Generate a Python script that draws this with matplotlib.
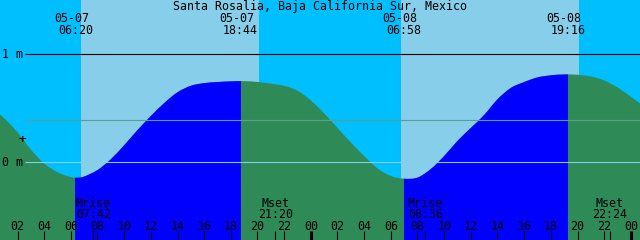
import matplotlib
matplotlib.use("Agg")
import matplotlib.pyplot as plt
from matplotlib.path import Path
from matplotlib.patches import PathPatch
from matplotlib.transforms import blended_transform_factory

# ---------------- data ----------------
title = "Santa Rosalia, Baja California Sur, Mexico"

# hours counted from 05-07 00:00 ; tide height in metres
tide_hours = [0.6875, 1, 2, 3, 4, 5, 6, 6.5, 7, 8, 9, 10, 11, 12, 13, 14, 15, 16, 17,
              18, 19, 20, 21, 22, 23, 24, 25, 26, 27, 28, 29, 30, 31, 32, 33, 34,
              35, 36, 37, 38, 39, 40, 41, 42, 43, 44, 45, 46, 47, 48, 48.6875]
tide_heights = [0.444, 0.41, 0.28, 0.12, -0.01, -0.09, -0.135, -0.14, -0.13, -0.07,
                0.03, 0.16, 0.30, 0.43, 0.55, 0.65, 0.71, 0.735, 0.745, 0.751, 0.753,
                0.746, 0.73, 0.71, 0.665, 0.575, 0.455, 0.32, 0.185, 0.06, -0.055,
                -0.125, -0.15, -0.14, -0.06, 0.06, 0.20, 0.32, 0.44, 0.585, 0.69,
                0.745, 0.788, 0.807, 0.815, 0.812, 0.797, 0.76, 0.695, 0.61, 0.546]

sun_dates = ["05-07", "05-07", "05-08", "05-08"]
sun_times = ["06:20", "18:44", "06:58", "19:16"]
sun_hours = [6 + 20/60, 18 + 44/60, 24 + 6 + 58/60, 24 + 19 + 16/60]

moon_names = ["Mrise", "Mset", "Mrise", "Mset"]
moon_times = ["07:42", "21:20", "08:36", "22:24"]
moon_hours = [7 + 42/60, 21 + 20/60, 24 + 8 + 36/60, 24 + 22 + 24/60]

light_sky_spans = [(6.77, 20.11), (30.76, 44.11)]

level_values = [1.0, 0.39, 0.0]
level_labels = ["1 m", "", "0 m"]

tick_hours = list(range(2, 49, 2))
tick_labels = ["%02d" % (h % 24) for h in tick_hours]
midnight_hours = [24, 48]

# ---------------- style ----------------
NIGHT_SKY = "#00BFFF"
DAY_SKY = "#87CEEB"
NIGHT_WATER = "#2E8B57"
DAY_WATER = "#0000FF"
MID_LINE = "#5AA08C"
ZERO_LINE = "#87CEEB"
FONT = "DejaVu Sans Mono"
FS = 8.4
W, H = 640, 240
X0, X1 = 0.6875, 48.6875
Y0, Y1 = -0.7176, 1.5046

fig = plt.figure(figsize=(W / 100, H / 100), dpi=100)
ax = fig.add_axes([0, 0, 1, 1])
ax.set_xlim(X0, X1)
ax.set_ylim(Y0, Y1)
ax.axis("off")
fig.patch.set_facecolor(NIGHT_SKY)

def px_x(px):
    return X0 + px / W * (X1 - X0)

def row(r):
    return 1 - r / H

tr = blended_transform_factory(ax.transData, fig.transFigure)

# sky
ax.axvspan(X0, X1, color=NIGHT_SKY, lw=0, zorder=0)
for a, b in light_sky_spans:
    ax.axvspan(a, b, color=DAY_SKY, lw=0, zorder=1)

# water: smooth (Catmull-Rom -> Bezier) path through the tide readings
pts = list(zip(tide_hours, tide_heights))
verts = [(tide_hours[0], Y0 - 1), pts[0]]
codes = [Path.MOVETO, Path.LINETO]
n = len(pts)
for i in range(n - 1):
    p0 = pts[i - 1] if i > 0 else pts[i]
    p1 = pts[i]
    p2 = pts[i + 1]
    p3 = pts[i + 2] if i + 2 < n else pts[i + 1]
    c1 = (p1[0] + (p2[0] - p0[0]) / 6, p1[1] + (p2[1] - p0[1]) / 6)
    c2 = (p2[0] - (p3[0] - p1[0]) / 6, p2[1] - (p3[1] - p1[1]) / 6)
    verts += [c1, c2, p2]
    codes += [Path.CURVE4] * 3
verts += [(tide_hours[-1], Y0 - 1), (tide_hours[0], Y0 - 1)]
codes += [Path.LINETO, Path.CLOSEPOLY]
water_path = Path(verts, codes)
water = PathPatch(water_path, facecolor=NIGHT_WATER, lw=0, zorder=2)
ax.add_patch(water)
for i in range(0, len(sun_hours), 2):
    r = ax.axvspan(sun_hours[i], sun_hours[i + 1], color=DAY_WATER, lw=0, zorder=3)
    r.set_clip_path(water_path, ax.transData)

# reference levels
line_start = px_x(25)
colors = ["black", MID_LINE, ZERO_LINE]
for v, c in zip(level_values, colors):
    ax.plot([line_start, X1], [v, v], color=c, lw=0.8, zorder=4, solid_capstyle="butt")
ax.text(px_x(2), row(58.3), level_labels[0], transform=tr, fontfamily=FONT, fontsize=FS,
        va="baseline", ha="left", zorder=6)
ax.text(px_x(2), row(166.5), level_labels[2], transform=tr, fontfamily=FONT, fontsize=FS,
        va="baseline", ha="left", zorder=6)
ax.text(px_x(22.5), row(143.5), "+", transform=tr, fontfamily=FONT, fontsize=FS + 1,
        va="baseline", ha="center", zorder=6)

# title
ax.text(0.5, row(10), title, transform=fig.transFigure, fontfamily=FONT, fontsize=FS,
        va="baseline", ha="center", zorder=6)

# sun labels
shift = 3.5 / W * (X1 - X0)
for d, t, h in zip(sun_dates, sun_times, sun_hours):
    ax.text(h - shift, row(21.7), d, transform=tr, fontfamily=FONT, fontsize=FS,
            va="baseline", ha="center", zorder=6)
    ax.text(h, row(34), t, transform=tr, fontfamily=FONT, fontsize=FS,
            va="baseline", ha="center", zorder=6)

# moon labels
for nm, t, h in zip(moon_names, moon_times, moon_hours):
    ax.text(h, row(206.7), nm, transform=tr, fontfamily=FONT, fontsize=FS,
            va="baseline", ha="center", zorder=6)
    ax.text(h, row(218.3), t, transform=tr, fontfamily=FONT, fontsize=FS,
            va="baseline", ha="center", zorder=6)

# hour ticks and labels
for h, lab in zip(tick_hours, tick_labels):
    lw = 2.2 if h in midnight_hours else 0.8
    ax.plot([h, h], [row(230.7), 0], transform=tr, color="black", lw=lw, zorder=6,
            solid_capstyle="butt")
    ax.text(h, row(230), lab, transform=tr, fontfamily=FONT, fontsize=FS,
            va="baseline", ha="center", zorder=6)
for h in moon_hours:
    ax.plot([h, h], [row(230.7), 0], transform=tr, color="black", lw=0.8, zorder=6,
            solid_capstyle="butt")

fig.savefig("out.png", dpi=100, facecolor=NIGHT_SKY)
